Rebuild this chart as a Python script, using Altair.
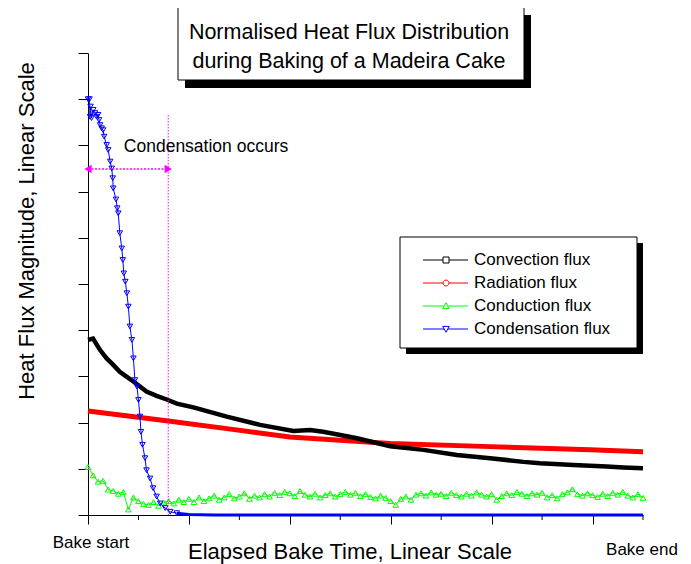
import altair as alt
import pandas as pd

# ---------------- data ----------------
series_names = ["Convection flux", "Radiation flux", "Conduction flux", "Condensation flux"]
series_colors = ["#000000", "#ff0000", "#00ff00", "#0000ff"]

conv_t = [0.0, 0.1, 0.24, 0.37, 0.50, 0.63, 0.77, 0.90, 1.03, 1.16, 1.36, 1.56, 1.76, 2.09,
          2.75, 3.41, 4.07, 4.40, 4.66, 5.00, 5.33, 5.99, 6.65, 7.31, 7.97, 8.63, 8.96,
          9.62, 10.28, 10.61, 11.0]
conv_v = [3.79, 3.82, 3.57, 3.39, 3.25, 3.10, 2.99, 2.89, 2.78, 2.67, 2.58, 2.50, 2.41, 2.33,
          2.13, 1.95, 1.82, 1.84, 1.80, 1.73, 1.66, 1.49, 1.41, 1.30, 1.23, 1.15, 1.12,
          1.08, 1.05, 1.03, 1.01]

rad_t = [0.0, 1.63, 2.75, 4.0, 5.99, 7.97, 9.95, 11.0]
rad_v = [2.25, 2.03, 1.87, 1.69, 1.55, 1.48, 1.41, 1.37]

cond_t = [0.0, 0.1, 0.2, 0.3, 0.4, 0.5, 0.6, 0.7, 0.8, 0.9,
          1.0, 1.1, 1.2, 1.3, 1.4, 1.5, 1.6, 1.7, 1.8, 1.9,
          2.0, 2.1, 2.2, 2.3, 2.4, 2.5, 2.6, 2.7, 2.8, 2.9,
          3.0, 3.1, 3.2, 3.3, 3.4, 3.5, 3.6, 3.7, 3.8, 3.9,
          4.0, 4.1, 4.2, 4.3, 4.4, 4.5, 4.6, 4.7, 4.8, 4.9,
          5.0, 5.1, 5.2, 5.3, 5.4, 5.5, 5.6, 5.7, 5.8, 5.9,
          6.0, 6.1, 6.2, 6.3, 6.4, 6.5, 6.6, 6.7, 6.8, 6.9,
          7.0, 7.1, 7.2, 7.3, 7.4, 7.5, 7.6, 7.7, 7.8, 7.9,
          8.0, 8.1, 8.2, 8.3, 8.4, 8.5, 8.6, 8.7, 8.8, 8.9,
          9.0, 9.1, 9.2, 9.3, 9.4, 9.5, 9.6, 9.7, 9.8, 9.9,
          10.0, 10.1, 10.2, 10.3, 10.4, 10.5, 10.6, 10.7, 10.8, 10.9, 11.0]
cond_v = [1.04, 0.86, 0.72, 0.74, 0.55, 0.52, 0.46, 0.50, 0.12, 0.38,
          0.30, 0.24, 0.22, 0.28, 0.20, 0.27, 0.30, 0.25, 0.33, 0.28,
          0.35, 0.28, 0.38, 0.30, 0.36, 0.42, 0.33, 0.38, 0.45, 0.36,
          0.40, 0.47, 0.35, 0.42, 0.38, 0.45, 0.40, 0.48, 0.43, 0.50,
          0.47, 0.41, 0.52, 0.44, 0.40, 0.46, 0.38, 0.43, 0.47, 0.40,
          0.45, 0.50, 0.44, 0.48, 0.41, 0.45, 0.39, 0.36, 0.42, 0.37,
          0.30, 0.22, 0.35, 0.40, 0.33, 0.44, 0.47, 0.42, 0.49, 0.44,
          0.46, 0.41, 0.48, 0.43, 0.40, 0.46, 0.42, 0.49, 0.44, 0.40,
          0.45, 0.33, 0.41, 0.47, 0.43, 0.50, 0.46, 0.41, 0.47, 0.44,
          0.48, 0.38, 0.43, 0.36, 0.45, 0.49, 0.56, 0.45, 0.42, 0.47,
          0.43, 0.39, 0.46, 0.41, 0.48, 0.44, 0.50, 0.42, 0.38, 0.45, 0.37]

dens_t = [0.0, 0.03, 0.04, 0.05, 0.07, 0.105, 0.14, 0.17, 0.20, 0.22, 0.24, 0.27, 0.30,
          0.32, 0.37, 0.40, 0.44, 0.47, 0.49, 0.50, 0.555, 0.58, 0.60, 0.63, 0.67, 0.69,
          0.71, 0.74, 0.77, 0.80, 0.83, 0.87, 0.90, 0.93, 0.97, 1.00, 1.03, 1.05, 1.08,
          1.13, 1.16, 1.23, 1.29, 1.36, 1.43, 1.53, 1.63, 1.76]
dens_v = [9.00, 9.00, 8.62, 8.84, 8.59, 8.77, 8.70, 8.62, 8.66, 8.55, 8.44, 8.37, 8.33,
          8.19, 8.01, 7.90, 7.65, 7.50, 7.29, 7.07, 6.83, 6.64, 6.53, 6.10, 5.77, 5.52,
          5.23, 5.05, 4.80, 4.51, 4.08, 3.79, 3.39, 2.92, 2.78, 2.49, 2.13, 1.80, 1.52,
          1.23, 0.97, 0.79, 0.58, 0.40, 0.25, 0.15, 0.07, 0.04]
dens_tail_t = [1.76, 2.0, 2.5, 11.0]
dens_tail_v = [0.04, 0.01, 0.0, 0.0]

marker_line_x = 1.59
marker_line_top = 8.66
arrow_y = 7.49
note_x, note_y = 0.71, 7.97
note_text = "Condensation occurs"

major_ticks = [0, 2, 4, 6, 8, 10]
minor_ticks = [1, 3, 5, 7, 9, 11]
y_ticks = [0, 1, 2, 3, 4, 5, 6, 7, 8, 9, 10]

title_lines = ["Normalised Heat Flux Distribution", "during Baking of a Madeira Cake"]
x_title = "Elapsed Bake Time, Linear Scale"
y_title = "Heat Flux Magnitude, Linear Scale"
x_end_labels = ["Bake start", "Bake end"]

# legend symbols: line with a hollow marker in the middle (pixel units),
# built from open segments only so that nothing gets filled
legend_paths = [
    "M-8.5,0H11.5M17.5,0H36.5"
    "M11.5,-3H17.5M17.5,-3V3M17.5,3H11.5M11.5,3V-3",
    "M-8.5,0H11.5M17.5,0H36.5"
    "M17.5,0L17.1,1.5M17.1,1.5L16,2.6M16,2.6L14.5,3M14.5,3L13,2.6M13,2.6L11.9,1.5M11.9,1.5L11.5,0"
    "M11.5,0L11.9,-1.5M11.9,-1.5L13,-2.6M13,-2.6L14.5,-3M14.5,-3L16,-2.6M16,-2.6L17.1,-1.5M17.1,-1.5L17.5,0",
    "M-8.5,0H12.8M16.2,0H36.5"
    "M14.5,-3.2L17.8,2.6M17.8,2.6L11.2,2.6M11.2,2.6L14.5,-3.2",
    "M-8.5,0H12.8M16.2,0H36.5"
    "M14.5,3.2L17.8,-2.6M17.8,-2.6L11.2,-2.6M11.2,-2.6L14.5,3.2",
]

FONT = "Liberation Sans"
W, H = 555, 462

conv = pd.DataFrame({"t": conv_t, "v": conv_v})
rad = pd.DataFrame({"t": rad_t, "v": rad_v})
cond = pd.DataFrame({"t": cond_t, "v": cond_v})
dens = pd.DataFrame({"t": dens_t, "v": dens_v})
dens_tail = pd.DataFrame({"t": dens_tail_t, "v": dens_tail_v})
one = pd.DataFrame({"a": [0]})

xs = alt.Scale(domain=[0, 11], nice=False, zero=False)
ys = alt.Scale(domain=[0, 10], nice=False, zero=False)
x_axis = alt.Axis(values=major_ticks, tickSize=9, labels=False, title=None, grid=False,
                  domainColor="black", tickColor="black", domainWidth=1, tickWidth=1)
y_axis = alt.Axis(values=y_ticks, tickSize=10, labels=False, title=None, grid=False,
                  domainColor="black", tickColor="black", domainWidth=1, tickWidth=1)
X = alt.X("t:Q", scale=xs, axis=x_axis)
Y = alt.Y("v:Q", scale=ys, axis=y_axis)

layers = []

# title box with shadow
layers.append(alt.Chart(one).mark_rect(color="black").encode(
    x=alt.value(97), x2=alt.value(443), y=alt.value(-38), y2=alt.value(35)))
layers.append(alt.Chart(one).mark_rect(fill="white", stroke="black", strokeWidth=1).encode(
    x=alt.value(90), x2=alt.value(436), y=alt.value(-46), y2=alt.value(27)))
layers.append(alt.Chart(one).mark_text(font=FONT, fontSize=21.5, color="black",
                                       align="center", baseline="middle").encode(
    x=alt.value(261), y=alt.value(-20), text=alt.value(title_lines[0])))
layers.append(alt.Chart(one).mark_text(font=FONT, fontSize=21.5, color="black",
                                       align="center", baseline="middle").encode(
    x=alt.value(261), y=alt.value(9), text=alt.value(title_lines[1])))

# legend box with shadow
layers.append(alt.Chart(one).mark_rect(color="black").encode(
    x=alt.value(318), x2=alt.value(555), y=alt.value(190), y2=alt.value(301)))
layers.append(alt.Chart(one).mark_rect(fill="white", stroke="black", strokeWidth=1).encode(
    x=alt.value(312), x2=alt.value(549), y=alt.value(184), y2=alt.value(295)))

# series
layers.append(alt.Chart(rad).mark_line(color="#ff0000", strokeWidth=5).encode(x=X, y=Y))
layers.append(alt.Chart(conv).mark_line(color="#000000", strokeWidth=4.5).encode(x=X, y=Y))
layers.append(alt.Chart(cond).mark_line(color="#00ff00", strokeWidth=1).encode(x=X, y=Y))
layers.append(alt.Chart(cond).mark_point(shape="triangle-up", filled=False, color="#00ff00",
                                         size=32, strokeWidth=1, opacity=1).encode(x=X, y=Y))
layers.append(alt.Chart(dens_tail).mark_line(color="#0000ff", strokeWidth=3).encode(x=X, y=Y))
layers.append(alt.Chart(dens).mark_line(color="#0000ff", strokeWidth=1).encode(x=X, y=Y))
layers.append(alt.Chart(dens).mark_point(shape="triangle-down", filled=False, color="#0000ff",
                                         size=30, strokeWidth=1, opacity=1).encode(x=X, y=Y))

# condensation annotation
vline = pd.DataFrame({"t": [marker_line_x], "v": [marker_line_top], "v2": [0.0]})
layers.append(alt.Chart(vline).mark_rule(color="#ff00ff", strokeWidth=1, strokeDash=[1.5, 1.5]).encode(
    x=X, y=Y, y2="v2:Q"))
hline = pd.DataFrame({"t": [0.0], "t2": [marker_line_x], "v": [arrow_y]})
layers.append(alt.Chart(hline).mark_rule(color="#ff00ff", strokeWidth=1.5, strokeDash=[2, 1.5]).encode(
    x=X, x2="t2:Q", y=Y))
heads = pd.DataFrame({"t": [0.0, marker_line_x], "v": [arrow_y, arrow_y],
                      "s": ["triangle-left", "triangle-right"], "o": [4.5, -4.5]})
layers.append(alt.Chart(heads).mark_point(filled=True, color="#ff00ff", size=70, opacity=1).encode(
    x=X, y=Y, shape=alt.Shape("s:N", scale=None), xOffset=alt.XOffset("o:Q", scale=None)))
note = pd.DataFrame({"t": [note_x], "v": [note_y], "txt": [note_text]})
layers.append(alt.Chart(note).mark_text(font=FONT, fontSize=17.5, color="black",
                                        align="left", baseline="middle").encode(x=X, y=Y, text="txt:N"))

# minor x ticks
minor = pd.DataFrame({"t": minor_ticks})
layers.append(alt.Chart(minor).mark_rule(color="black", strokeWidth=1).encode(
    x=X, y=alt.value(H), y2=alt.value(H + 5)))

# end labels of the x axis
start_df = pd.DataFrame({"t": [0.0], "txt": [x_end_labels[0]]})
end_df = pd.DataFrame({"t": [11.0], "txt": [x_end_labels[1]]})
layers.append(alt.Chart(start_df).mark_text(font=FONT, fontSize=17, color="black", align="center",
                                            baseline="middle", dx=3).encode(
    x=X, y=alt.value(490), text="txt:N"))
layers.append(alt.Chart(end_df).mark_text(font=FONT, fontSize=17, color="black", align="center",
                                          baseline="middle", dx=-1).encode(
    x=X, y=alt.value(497), text="txt:N"))

# axis titles
layers.append(alt.Chart(one).mark_text(font=FONT, fontSize=22, color="black", align="center",
                                       baseline="middle").encode(
    x=alt.value(262), y=alt.value(499), text=alt.value(x_title)))
layers.append(alt.Chart(one).mark_text(font=FONT, fontSize=22, color="black", align="center",
                                       baseline="middle", angle=270).encode(
    x=alt.value(-61), y=alt.value(178), text=alt.value(y_title)))

# legend (drawn from a clipped, invisible point layer)
leg_df = pd.DataFrame({"t": [1.0, 2.0, 3.0, 4.0], "v": [-5.0] * 4, "series": series_names})
leg = alt.Legend(title=None, orient="none", legendX=335, legendY=198.5, padding=0,
                 labelFont=FONT, labelFontSize=17, labelColor="black", labelOffset=34,
                 rowPadding=5, symbolSize=4, symbolStrokeWidth=1)
layers.append(alt.Chart(leg_df).mark_point(filled=False, size=4, strokeWidth=1, opacity=1, clip=True).encode(
    x=X, y=Y,
    stroke=alt.Stroke("series:N", scale=alt.Scale(domain=series_names, range=series_colors), legend=leg),
    shape=alt.Shape("series:N", scale=alt.Scale(domain=series_names, range=legend_paths), legend=leg),
))

chart = alt.layer(*layers).properties(
    width=W, height=H,
    autosize=alt.AutoSizeParams(type="none"),
    padding={"left": 80, "top": 45, "right": 38, "bottom": 49},
    background="white",
).configure_view(stroke=None)

chart.save("out.html", embed_options={"renderer": "svg", "actions": False})
